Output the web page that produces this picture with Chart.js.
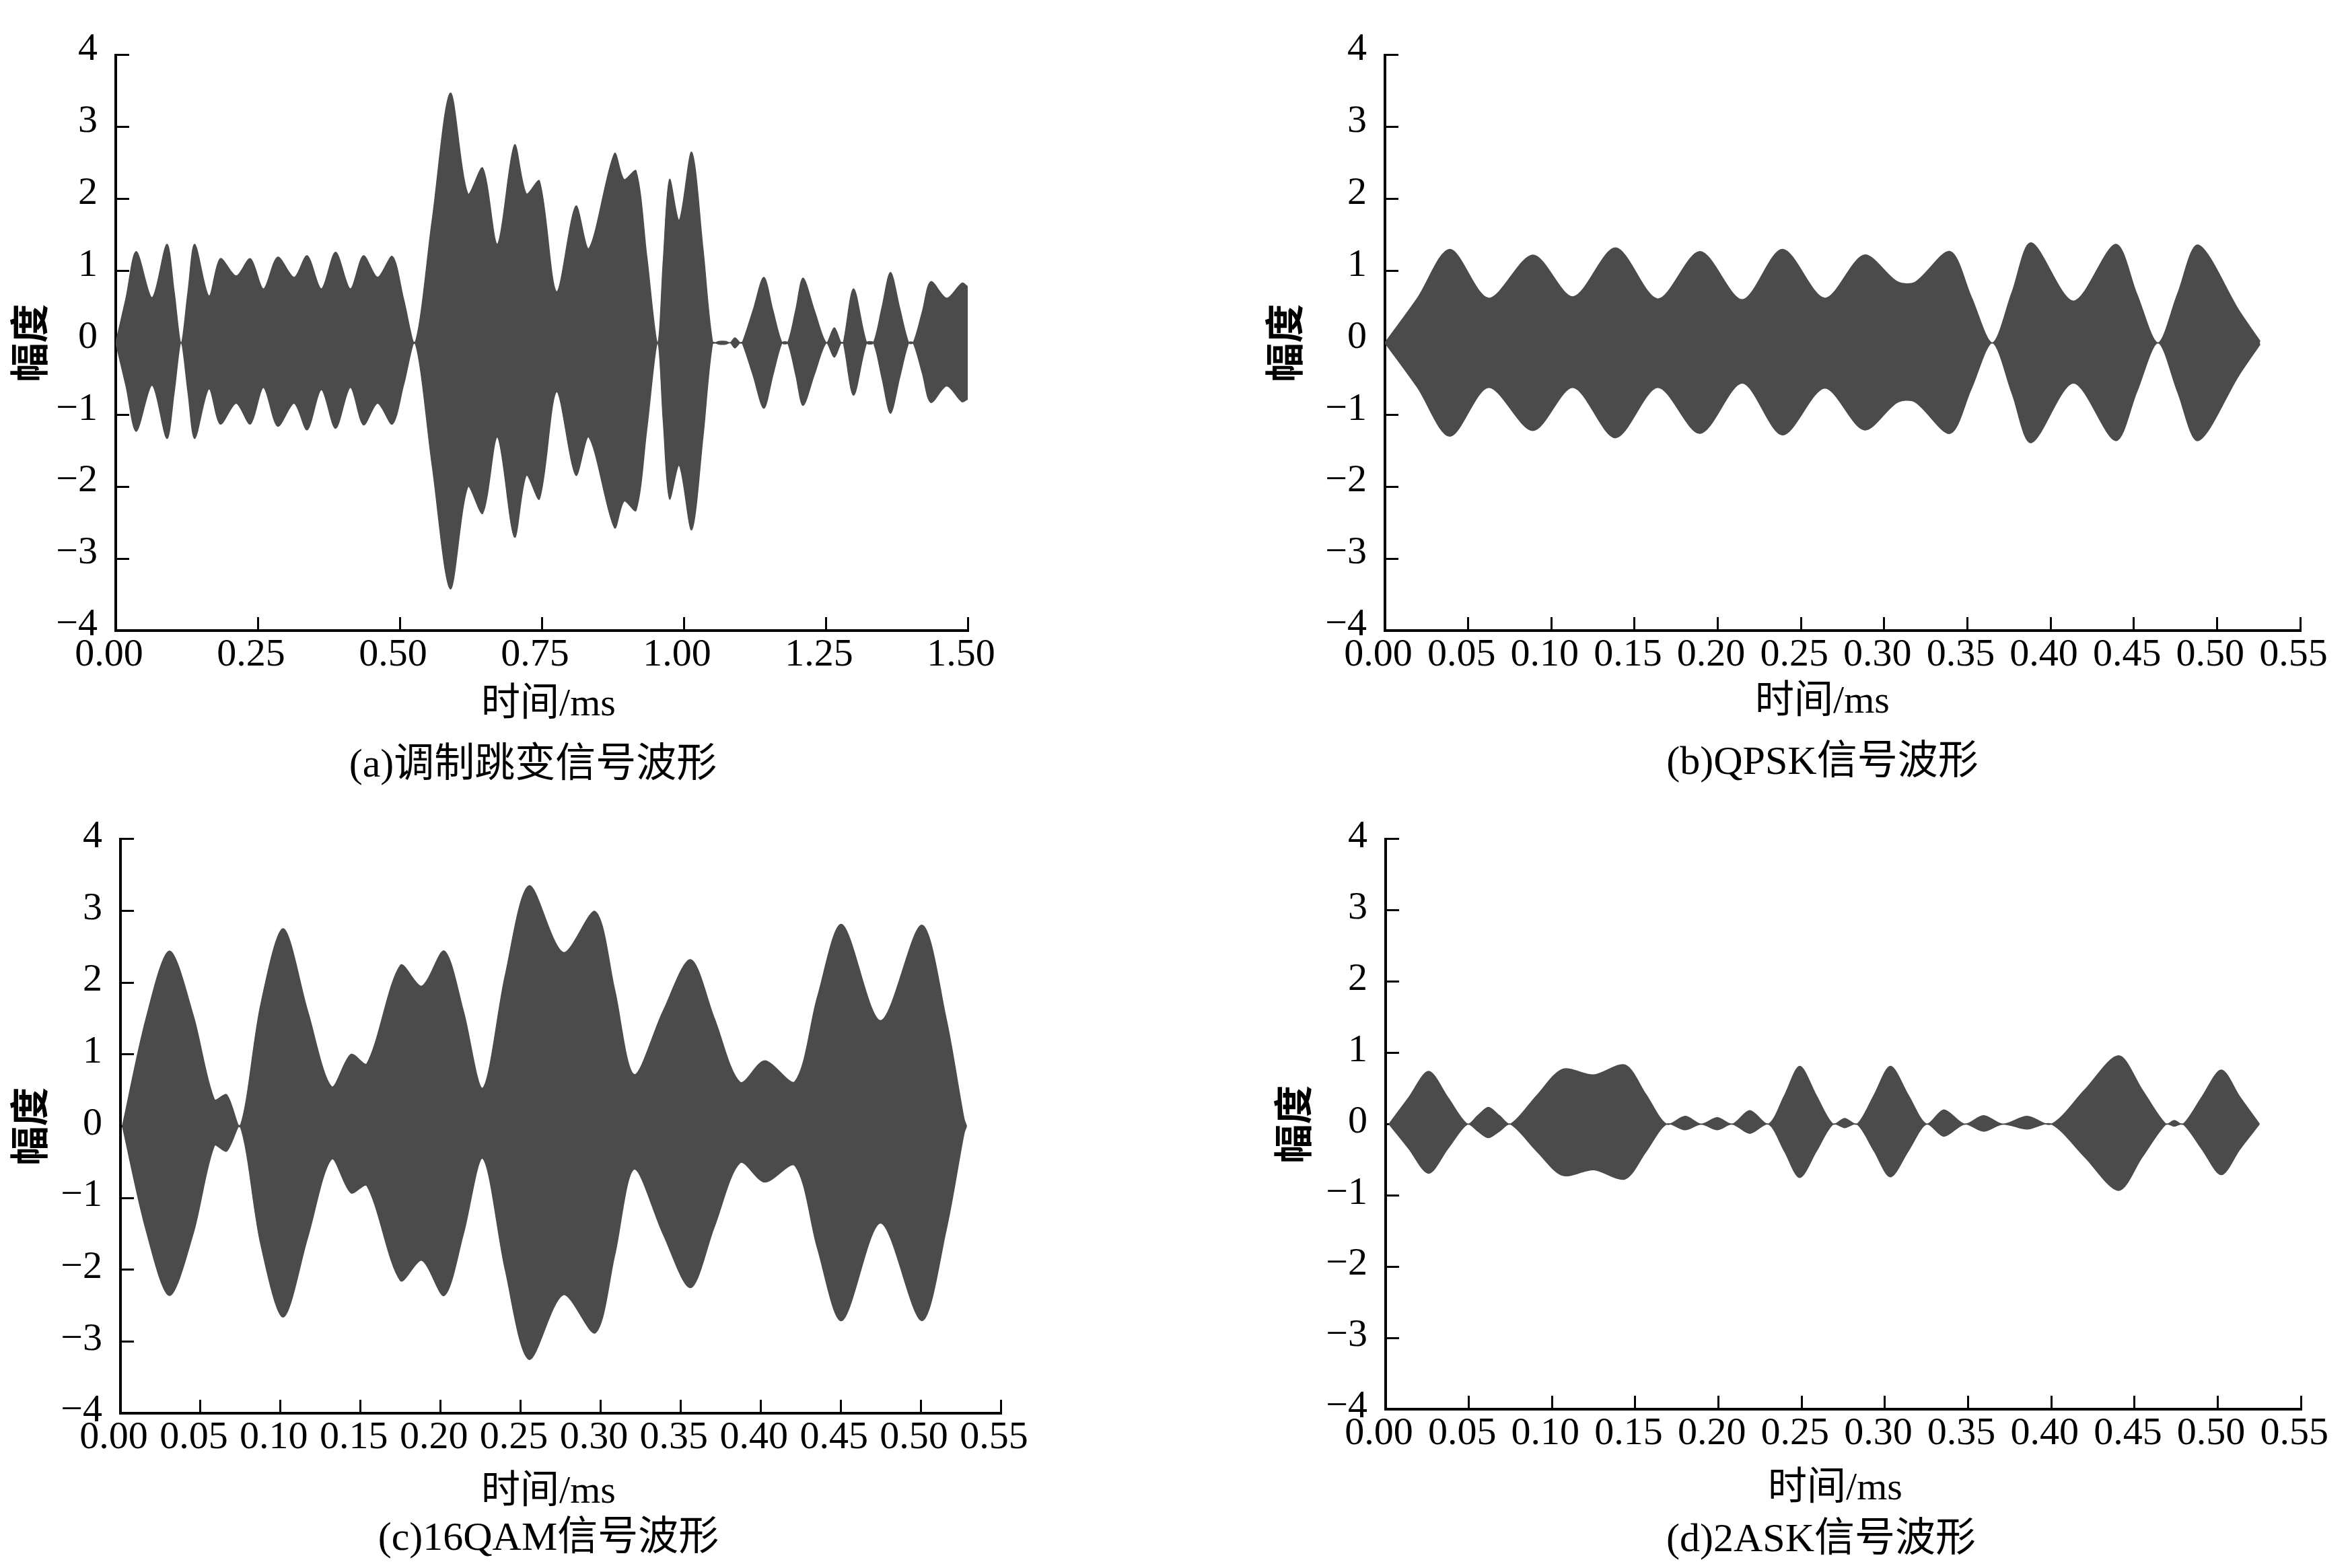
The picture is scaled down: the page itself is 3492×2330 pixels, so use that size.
<!DOCTYPE html>
<html>
<head>
<meta charset="utf-8">
<script src="https://cdn.jsdelivr.net/npm/chart.js@4.4.0/dist/chart.umd.min.js"></script>
<style>
html, body { margin:0; padding:0; background:#fff; }
body { width:3492px; height:2330px; position:relative; overflow:hidden;
       font-family:"Liberation Serif","Noto Sans CJK SC",serif; }
canvas { position:absolute; }
.lbl { position:absolute; transform:translate(-50%,-50%); white-space:nowrap; line-height:1; color:#000; }
.xt { font-size:58px; }
.cap { font-size:60px; }
</style>
</head>
<body>
<canvas id="ca" width="1746" height="1165" style="left:0px;top:0px"></canvas>
<canvas id="cb" width="1746" height="1165" style="left:1746px;top:0px"></canvas>
<canvas id="cc" width="1746" height="1165" style="left:0px;top:1165px"></canvas>
<canvas id="cd" width="1746" height="1165" style="left:1746px;top:1165px"></canvas>

<div class="lbl xt" style="left:815px;top:1044px">时间/ms</div>
<div class="lbl xt" style="left:2708px;top:1040px">时间/ms</div>
<div class="lbl xt" style="left:815px;top:2214px">时间/ms</div>
<div class="lbl xt" style="left:2727px;top:2209px">时间/ms</div>

<div class="lbl cap" style="left:792px;top:1134px">(a)调制跳变信号波形</div>
<div class="lbl cap" style="left:2708px;top:1130px">(b)QPSK信号波形</div>
<div class="lbl cap" style="left:815px;top:2283px">(c)16QAM信号波形</div>
<div class="lbl cap" style="left:2706px;top:2285px">(d)2ASK信号波形</div>

<script>
// (a) 调制跳变信号 - envelope
var aTime = [0, 0.018, 0.036, 0.064, 0.090, 0.103, 0.115, 0.127, 0.139, 0.164, 0.184, 0.212, 0.237, 0.260, 0.285, 0.314, 0.337, 0.362, 0.387, 0.413, 0.436, 0.461, 0.487, 0.507, 0.527,
  0.557, 0.589, 0.620, 0.646, 0.672, 0.702, 0.723, 0.746, 0.776, 0.810, 0.833, 0.878, 0.895, 0.916, 0.935, 0.954, 0.964, 0.975, 0.992, 1.014, 1.034, 1.051,
  1.062, 1.074, 1.082, 1.090, 1.099, 1.103, 1.122, 1.141, 1.157, 1.173, 1.183, 1.197, 1.210, 1.230, 1.251, 1.265, 1.277, 1.281, 1.299, 1.322, 1.334, 1.349, 1.364, 1.380, 1.396, 1.404, 1.420, 1.435, 1.463, 1.490, 1.500];
var aUpper = [0, 0.62, 1.27, 0.63, 1.37, 0.70, 0, 0.70, 1.37, 0.65, 1.17, 0.93, 1.17, 0.75, 1.19, 0.91, 1.21, 0.75, 1.26, 0.75, 1.21, 0.91, 1.20, 0.60, 0,
  1.70, 3.47, 2.07, 2.43, 1.37, 2.75, 2.07, 2.25, 0.71, 1.90, 1.31, 2.63, 2.27, 2.39, 1.20, 0, 1.15, 2.27, 1.70, 2.65, 1.30, 0,
  0.02, 0.02, 0, 0.07, 0, 0, 0.45, 0.91, 0.45, 0, 0, 0.45, 0.90, 0.45, 0, 0.21, 0, 0, 0.75, 0, 0, 0.49, 0.98, 0.49, 0, 0, 0.43, 0.85, 0.62, 0.83, 0.78];
var aLower = [0, -0.60, -1.23, -0.59, -1.33, -0.68, 0, -0.68, -1.33, -0.64, -1.13, -0.84, -1.13, -0.62, -1.16, -0.84, -1.21, -0.65, -1.19, -0.62, -1.14, -0.84, -1.13, -0.58, 0,
  -1.70, -3.42, -2.00, -2.37, -1.31, -2.70, -1.84, -2.17, -0.68, -1.84, -1.31, -2.57, -2.20, -2.33, -1.20, 0, -1.10, -2.17, -1.70, -2.60, -1.30, 0,
  -0.02, -0.02, 0, -0.07, 0, 0, -0.45, -0.91, -0.45, 0, 0, -0.44, -0.87, -0.44, 0, -0.20, 0, 0, -0.73, 0, 0, -0.49, -0.98, -0.49, 0, 0, -0.42, -0.83, -0.60, -0.82, -0.78];

// (b) QPSK
var bTime = [0, 0.0195, 0.039, 0.0622, 0.0889, 0.113, 0.1385, 0.1639, 0.1893, 0.2147, 0.2388, 0.2642, 0.2879, 0.3078, 0.3184, 0.3396, 0.3523, 0.365, 0.3768, 0.3883, 0.4137, 0.4391, 0.4518, 0.4645, 0.4763, 0.4886, 0.5132, 0.5259];
var bUpper = [0, 0.62, 1.30, 0.62, 1.22, 0.64, 1.32, 0.61, 1.27, 0.60, 1.30, 0.62, 1.22, 0.85, 0.84, 1.27, 0.64, 0, 0.70, 1.39, 0.58, 1.37, 0.68, 0, 0.68, 1.36, 0.45, 0.02];
var bLower = [0, -0.62, -1.30, -0.62, -1.22, -0.62, -1.32, -0.62, -1.26, -0.56, -1.28, -0.63, -1.21, -0.83, -0.82, -1.26, -0.64, 0, -0.70, -1.39, -0.56, -1.36, -0.68, 0, -0.68, -1.36, -0.45, -0.02];

// (c) 16QAM
var cTime = [0.0012, 0.016, 0.0306, 0.0454, 0.0587, 0.0663, 0.0748, 0.0877, 0.1017, 0.117, 0.1319, 0.144, 0.154, 0.1749, 0.1882, 0.2023, 0.2143, 0.2264, 0.2404, 0.2553, 0.2766, 0.2967, 0.3088, 0.3209, 0.339, 0.3562, 0.3711, 0.3872, 0.4025, 0.4214, 0.4355, 0.4507, 0.4749, 0.5006, 0.5159, 0.5271, 0.5287];
var cUpper = [0, 1.50, 2.44, 1.55, 0.37, 0.44, 0, 1.70, 2.75, 1.60, 0.55, 1.00, 0.87, 2.24, 1.95, 2.44, 1.60, 0.53, 2.10, 3.35, 2.42, 2.99, 1.90, 0.72, 1.60, 2.32, 1.50, 0.61, 0.91, 0.62, 1.80, 2.81, 1.47, 2.80, 1.50, 0.10, 0];
var cLower = [0, -1.45, -2.36, -1.50, -0.27, -0.35, 0, -1.65, -2.66, -1.55, -0.46, -0.93, -0.83, -2.15, -1.87, -2.36, -1.50, -0.45, -2.00, -3.25, -2.35, -2.88, -1.80, -0.60, -1.50, -2.25, -1.40, -0.51, -0.78, -0.55, -1.70, -2.71, -1.35, -2.71, -1.45, -0.10, 0];

// (d) 2ASK
var dTime = [0.002, 0.0138, 0.0258, 0.0375, 0.0492, 0.0554, 0.0617, 0.0683, 0.075, 0.0908, 0.1063, 0.125, 0.1438, 0.1563, 0.1688, 0.18, 0.1896, 0.1992, 0.2083, 0.2188, 0.23, 0.2396, 0.2488, 0.2588, 0.2688, 0.2758, 0.2833, 0.2933, 0.3033, 0.3142, 0.325, 0.3354, 0.3479, 0.3592, 0.3708, 0.3854, 0.4, 0.42, 0.4404, 0.4546, 0.4688, 0.4738, 0.4792, 0.4904, 0.5021, 0.5133, 0.525];
var dUpper = [0, 0.37, 0.74, 0.37, 0, 0.12, 0.235, 0.12, 0, 0.40, 0.77, 0.69, 0.83, 0.42, 0, 0.11, 0, 0.09, 0, 0.19, 0, 0.40, 0.81, 0.40, 0, 0.08, 0, 0.40, 0.81, 0.40, 0, 0.20, 0, 0.12, 0, 0.11, 0, 0.48, 0.96, 0.48, 0, 0.05, 0, 0.38, 0.76, 0.38, 0];
var dLower = [0, -0.34, -0.69, -0.34, 0, -0.10, -0.19, -0.10, 0, -0.38, -0.72, -0.64, -0.77, -0.39, 0, -0.08, 0, -0.08, 0, -0.13, 0, -0.38, -0.75, -0.38, 0, -0.05, 0, -0.37, -0.74, -0.37, 0, -0.17, 0, -0.10, 0, -0.07, 0, -0.46, -0.93, -0.46, 0, -0.03, 0, -0.35, -0.71, -0.35, 0];

// tick labels
var aXTicks = [0, 0.25, 0.5, 0.75, 1.0, 1.25, 1.5];
var shortXTicks = [0, 0.05, 0.10, 0.15, 0.20, 0.25, 0.30, 0.35, 0.40, 0.45, 0.50, 0.55];
var yTicks = [-4, -3, -2, -1, 0, 1, 2, 3, 4];

var waveColor = '#4b4b4b';
var fontFam = '"Liberation Serif", "Noto Sans CJK SC", serif';

function makePanel(id, time, upper, lower, xTicks, lay) {
  var up = time.map(function(t, i) { return {x: t, y: upper[i]}; });
  var lo = time.map(function(t, i) { return {x: t, y: lower[i]}; });
  // upper envelope is filled down to the lower one in one piece, so no seam at 0
  var ds = function(d, fill) {
    return { data: d, fill: fill, backgroundColor: waveColor, borderColor: waveColor,
             borderWidth: 1.5, pointRadius: 0, tension: 0.3 };
  };
  return new Chart(document.getElementById(id), {
    type: 'line',
    data: { datasets: [ds(up, '+1'), ds(lo, false)] },
    options: {
      responsive: false,
      animation: false,
      devicePixelRatio: 1,
      events: [],
      layout: { padding: { left: lay.padL, right: lay.padR, top: lay.padT, bottom: lay.padB } },
      plugins: { legend: { display: false }, tooltip: { enabled: false } },
      scales: {
        x: {
          type: 'linear',
          min: 0,
          max: xTicks[xTicks.length - 1],
          afterBuildTicks: function(s) { s.ticks = xTicks.map(function(v) { return {value: v}; }); },
          afterFit: function(s) { s.height = 100; },
          border: { color: '#000', width: 4 },
          grid: { drawOnChartArea: false, drawTicks: true, tickLength: -20, color: '#000', lineWidth: 3 },
          ticks: {
            font: { family: fontFam, size: 58 }, color: '#000', padding: 22,
            maxRotation: 0, minRotation: 0, autoSkip: false, labelOffset: -10,
            callback: function(v) { return Number(v).toFixed(2); }
          }
        },
        y: {
          min: -4,
          max: 4,
          afterBuildTicks: function(s) { s.ticks = yTicks.map(function(v) { return {value: v}; }); },
          afterFit: function(s) { s.width = lay.yW; },
          border: { color: '#000', width: 4 },
          grid: { drawOnChartArea: false, drawTicks: true, tickLength: -20, color: '#000', lineWidth: 3 },
          ticks: {
            font: { family: fontFam, size: 58 }, color: '#000', padding: 47, labelOffset: lay.yOff,
            callback: function(v) { return String(v).replace('-', '\u2212'); }
          },
          title: { display: true, text: '幅度', color: '#000', padding: 0,
                   font: { family: fontFam, size: 58, weight: 'bold' } }
        }
      }
    }
  });
}

makePanel('ca', aTime, aUpper, aLower, aXTicks, { padL: 15, yW: 157, padR: 308, padT: 49, padB: 128, yOff: -8 });
makePanel('cb', bTime, bUpper, bLower, shortXTicks, { padL: 134, yW: 178, padR: 74, padT: 49, padB: 128, yOff: -8 });
makePanel('cc', cTime, cUpper, cLower, shortXTicks, { padL: 15, yW: 164, padR: 259, padT: 48, padB: 130, yOff: -3 });
makePanel('cd', dTime, dUpper, dLower, shortXTicks, { padL: 147, yW: 166, padR: 55, padT: 47, padB: 136, yOff: -3 });
</script>
</body>
</html>
